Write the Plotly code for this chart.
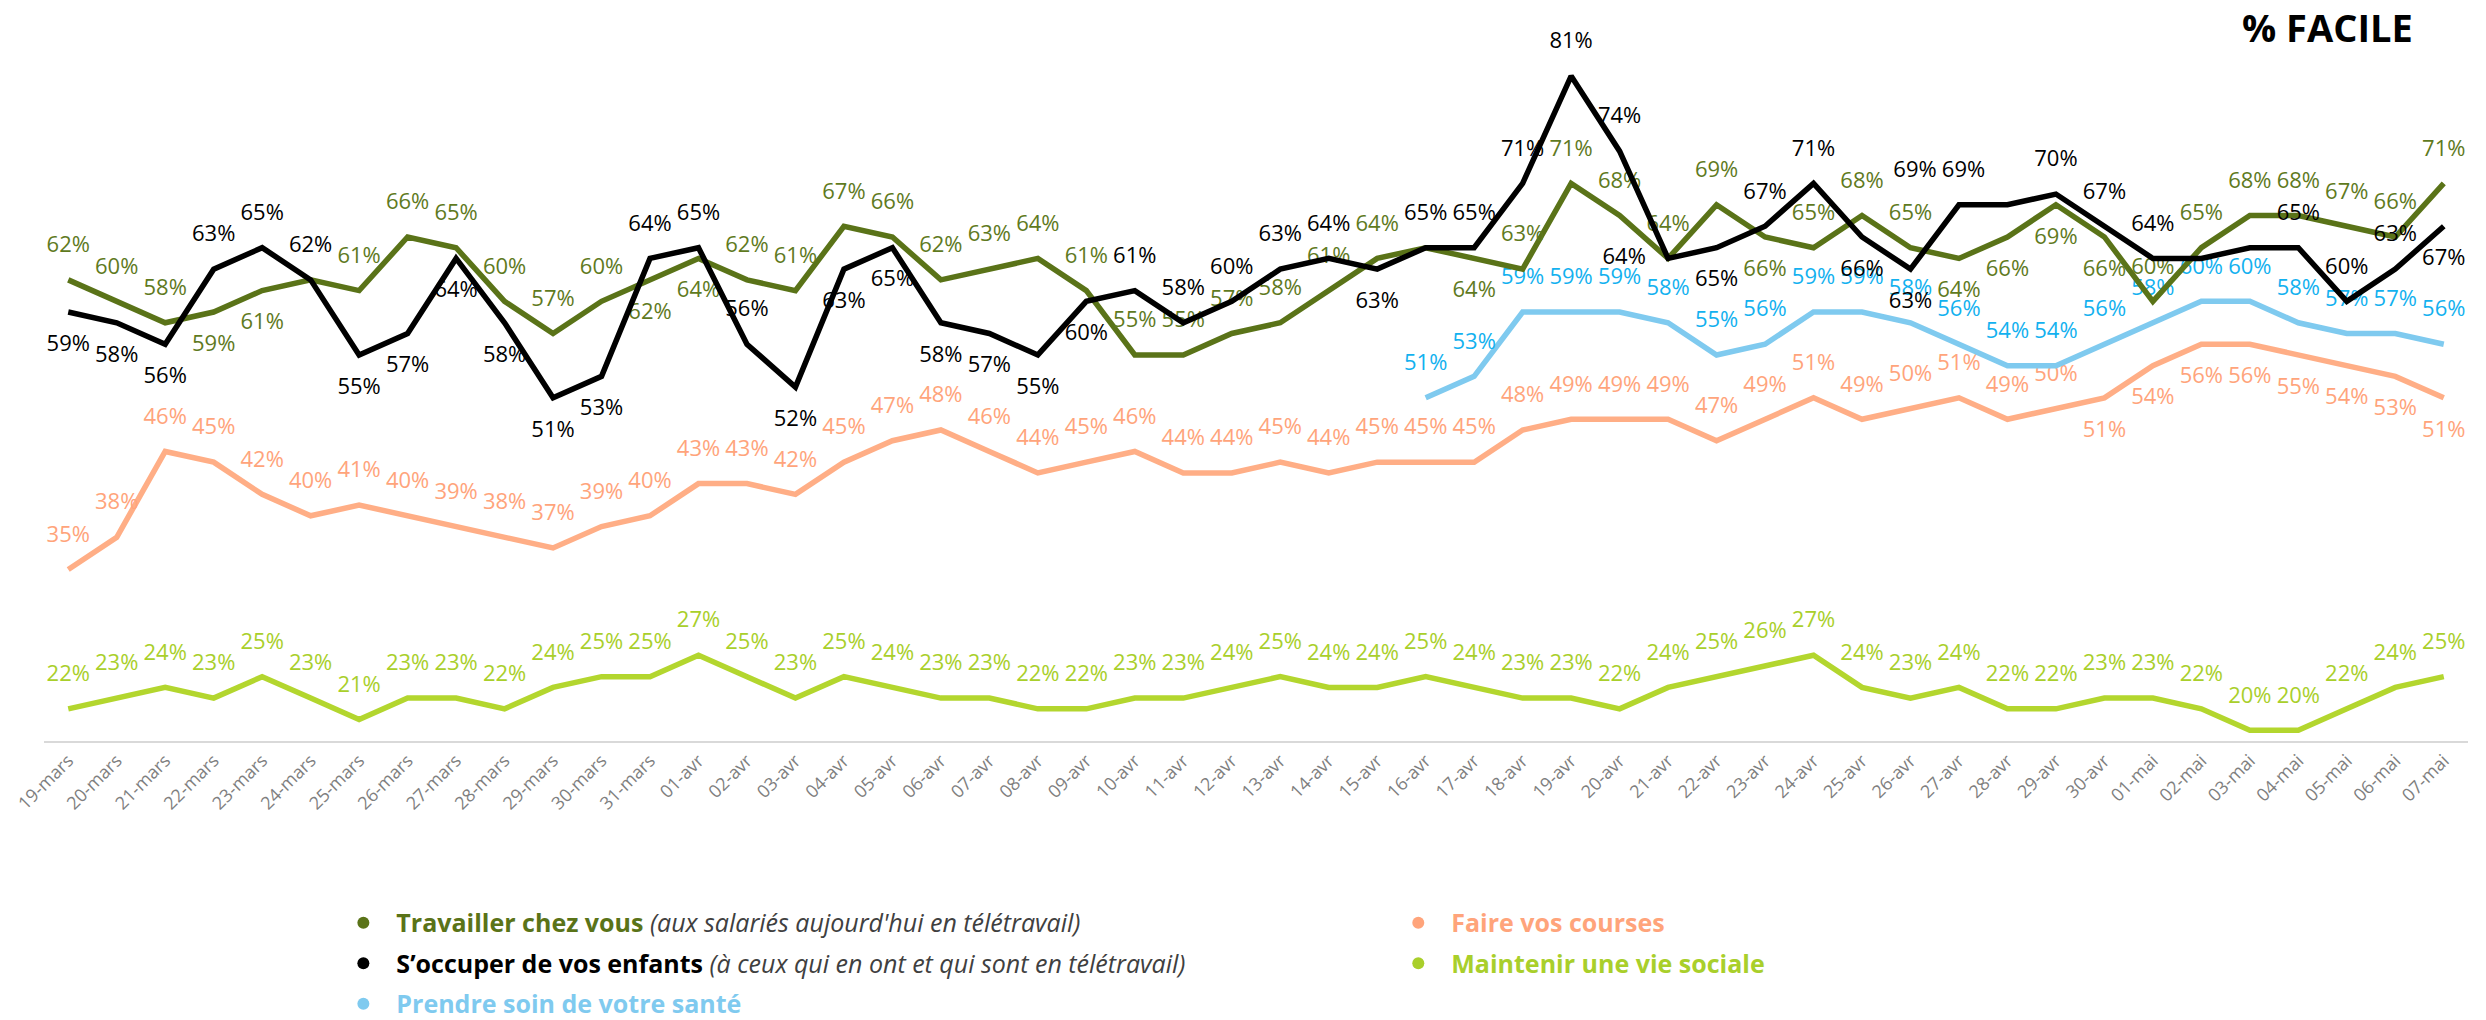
import plotly.graph_objects as go

DATES = ["19-mars", "20-mars", "21-mars", "22-mars", "23-mars", "24-mars", "25-mars", "26-mars",
         "27-mars", "28-mars", "29-mars", "30-mars", "31-mars",
         "01-avr", "02-avr", "03-avr", "04-avr", "05-avr", "06-avr", "07-avr", "08-avr", "09-avr",
         "10-avr", "11-avr", "12-avr", "13-avr", "14-avr", "15-avr", "16-avr", "17-avr", "18-avr",
         "19-avr", "20-avr", "21-avr", "22-avr", "23-avr", "24-avr", "25-avr", "26-avr", "27-avr",
         "28-avr", "29-avr", "30-avr",
         "01-mai", "02-mai", "03-mai", "04-mai", "05-mai", "06-mai", "07-mai"]

TRAVAILLER = [62, 60, 58, 59, 61, 62, 61, 66, 65, 60, 57, 60, 62, 64, 62, 61, 67, 66, 62, 63,
              64, 61, 55, 55, 57, 58, 61, 64, 65, 64, 63, 71, 68, 64, 69, 66, 65, 68, 65, 64,
              66, 69, 66, 60, 65, 68, 68, 67, 66, 71]
ENFANTS = [59, 58, 56, 63, 65, 62, 55, 57, 64, 58, 51, 53, 64, 65, 56, 52, 63, 65, 58, 57,
           55, 60, 61, 58, 60, 63, 64, 63, 65, 65, 71, 81, 74, 64, 65, 67, 71, 66, 63, 69,
           69, 70, 67, 64, 64, 65, 65, 60, 63, 67]
SANTE = [None] * 28 + [51, 53, 59, 59, 59, 58, 55, 56, 59, 59, 58, 56, 54, 54, 56, 58, 60, 60,
                       58, 57, 57, 56]
COURSES = [35, 38, 46, 45, 42, 40, 41, 40, 39, 38, 37, 39, 40, 43, 43, 42, 45, 47, 48, 46,
           44, 45, 46, 44, 44, 45, 44, 45, 45, 45, 48, 49, 49, 49, 47, 49, 51, 49, 50, 51,
           49, 50, 51, 54, 56, 56, 55, 54, 53, 51]
SOCIALE = [22, 23, 24, 23, 25, 23, 21, 23, 23, 22, 24, 25, 25, 27, 25, 23, 25, 24, 23, 23,
           22, 22, 23, 23, 24, 25, 24, 24, 25, 24, 23, 23, 22, 24, 25, 26, 27, 24, 23, 24,
           22, 22, 23, 23, 22, 20, 20, 22, 24, 25]

# label placement (t = above, b = below, l = left, tl = above-left)
TRAVAILLER_POS = ("t t t b b t t t t t t t b b t t t t t t t t t t t t t t t b "
                  "t t t t t b t t t b b b b t t t t t t t").split()
ENFANTS_POS = ("b b b t t t b b b b b b t t t b b b b b b b t t t t t b t t "
               "t t t l b t t b b tl tl t t t t t t t t b").split()
COURSES_POS = ["t"] * 42 + ["b"] * 8
SANTE_POS = ["t"] * 50
SOCIALE_POS = ["t"] * 50

# labels not displayed in the original (overlaps)
TRAVAILLER_HIDDEN = [5, 28]
ENFANTS_HIDDEN = [44, 45]

POSMAP = {"t": "top center", "b": "bottom center", "l": "middle left", "tl": "top left"}
FONT = "Open Sans, Segoe UI, sans-serif"
PAD = "\u00a0\u00a0"


def labels(vals, hidden=()):
    return ["" if (v is None or i in hidden) else f"{v}%" for i, v in enumerate(vals)]


series = [
    ("Maintenir une vie sociale", SOCIALE, SOCIALE_POS, (), "#b3d62e", "#a9cf2b"),
    ("Faire vos courses", COURSES, COURSES_POS, (), "#ffae86", "#ffa47b"),
    ("Prendre soin de votre santé", SANTE, SANTE_POS, (), "#7fcaef", "#13b1ef"),
    ("Travailler chez vous", TRAVAILLER, TRAVAILLER_POS, TRAVAILLER_HIDDEN, "#5a7318", "#5f7a1e"),
    ("S’occuper de vos enfants", ENFANTS, ENFANTS_POS, ENFANTS_HIDDEN, "#000000", "#000000"),
]

fig = go.Figure()
for name, vals, pos, hidden, lc, tc in series:
    fig.add_trace(go.Scatter(
        x=DATES, y=vals, name=name, mode="lines+markers+text",
        line=dict(color=lc, width=5.5),
        marker=dict(size=34, opacity=0, color=lc),
        text=labels(vals, hidden), textposition=[POSMAP[p] for p in pos],
        textfont=dict(family=FONT, size=22, color=tc),
        showlegend=False, hoverinfo="skip", connectgaps=False,
    ))

legend_items = [
    ("legend", "<span style='color:#5a7318'><b>Travailler chez vous</b></span> "
     "<span style='color:#404040'><i>(aux salariés aujourd'hui en télétravail)</i></span>", "#5a7318"),
    ("legend", "<span style='color:#000000'><b>S’occuper de vos enfants</b></span> "
     "<span style='color:#404040'><i>(à ceux qui en ont et qui sont en télétravail)</i></span>", "#000000"),
    ("legend", "<span style='color:#7fcaef'><b>Prendre soin de votre santé</b></span>", "#7fcaef"),
    ("legend2", "<span style='color:#ffa47b'><b>Faire vos courses</b></span>", "#ffa47b"),
    ("legend2", "<span style='color:#a9cf2b'><b>Maintenir une vie sociale</b></span>", "#a9cf2b"),
]
for k, (lg, txt, col) in enumerate(legend_items):
    fig.add_trace(go.Scatter(x=[None], y=[None], mode="markers", name=PAD + txt,
                             marker=dict(size=18, color=col, symbol="circle"),
                             legend=lg, legendgroup=f"g{k}",
                             showlegend=True, hoverinfo="skip"))

legend_common = dict(orientation="v", xanchor="left", yanchor="top", y=-0.2236,
                     font=dict(family=FONT, size=25), itemsizing="constant",
                     bgcolor="rgba(0,0,0,0)", traceorder="grouped", tracegroupgap=5)

fig.update_layout(
    width=2486, height=1020,
    margin=dict(l=44, r=18, t=30, b=279, autoexpand=False),
    paper_bgcolor="white", plot_bgcolor="white",
    font=dict(family=FONT),
    hovermode=False,
    xaxis=dict(type="category", range=[-0.5, 49.5], showgrid=False, zeroline=False,
               showline=True, linecolor="#d9d9d9", linewidth=2, ticks="",
               tickangle=-45, tickfont=dict(family=FONT, size=18, color="#7f7f7f")),
    yaxis=dict(range=[19, 85.3], visible=False, showgrid=False, zeroline=False),
    legend=dict(x=0.1235, **legend_common),
    legend2=dict(x=0.5587, **legend_common),
    annotations=[dict(text="<b>% FACILE</b>", xref="paper", yref="paper",
                      x=0.978, y=1.004, xanchor="right", yanchor="middle", showarrow=False,
                      font=dict(family=FONT, size=38, color="#000000"))],
)

fig.write_html("out.html", config={"displayModeBar": False},
               post_script="document.body.style.margin='0';document.body.style.overflow='hidden';")
